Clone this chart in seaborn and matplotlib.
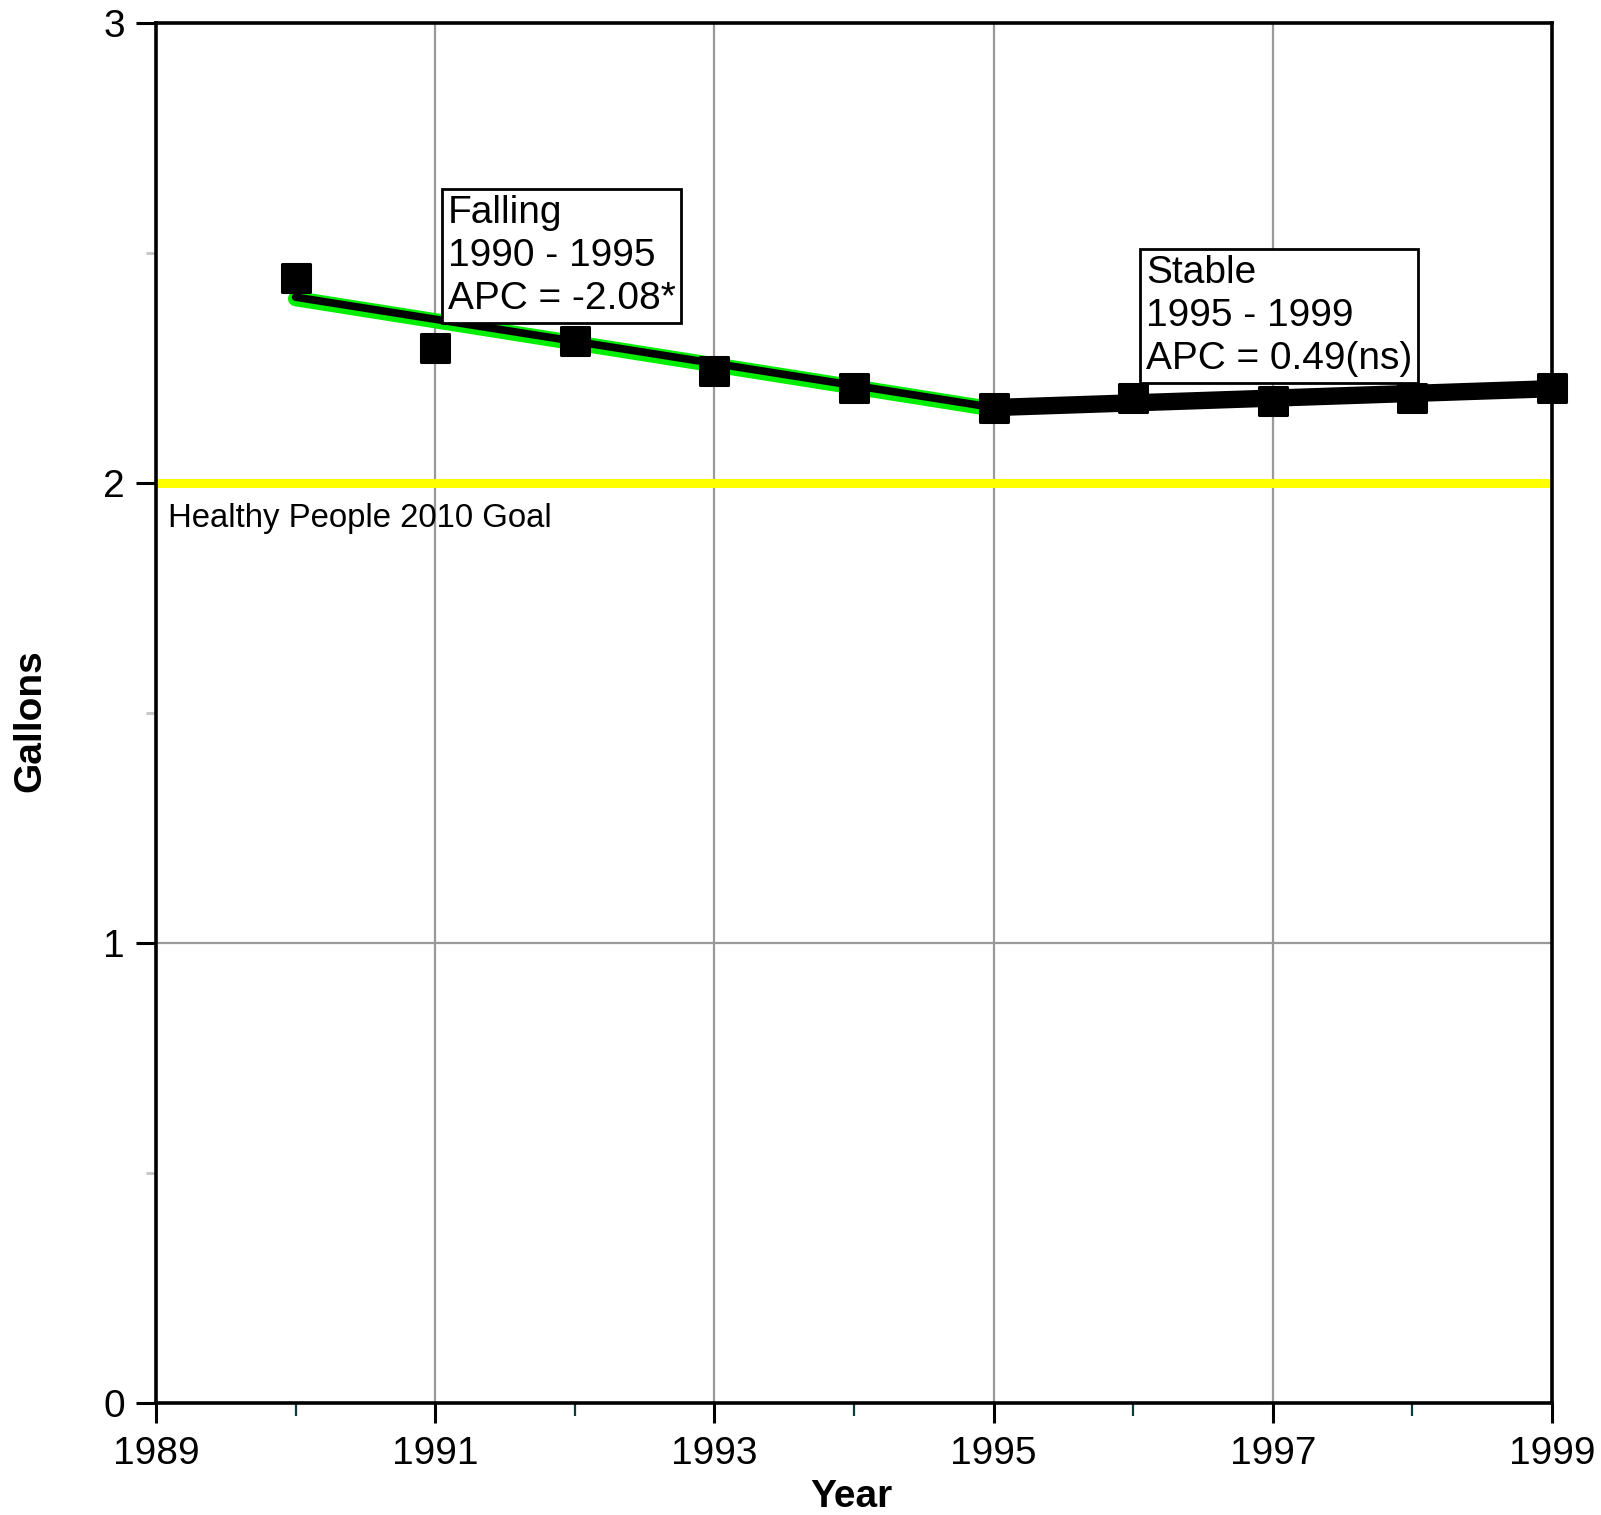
import matplotlib
matplotlib.use("Agg")
import matplotlib.pyplot as plt
import matplotlib.transforms as mtransforms
import pandas as pd
import seaborn as sns

# Per-capita consumption (gallons) by year
years = [1990, 1991, 1992, 1993, 1994, 1995, 1996, 1997, 1998, 1999]
gallons = [2.446, 2.294, 2.309, 2.243, 2.207, 2.164, 2.185, 2.178, 2.185, 2.207]

# Joinpoint trend segments
falling_years = [1990, 1995]
falling_fit = [2.404, 2.164]
stable_years = [1995, 1999]
stable_fit = [2.164, 2.205]

goal = 2.0
goal_label = "Healthy People 2010 Goal"
falling_label = "Falling\n1990 - 1995\nAPC = -2.08*"
stable_label = "Stable\n1995 - 1999\nAPC = 0.49(ns)"

x_major = [1989, 1991, 1993, 1995, 1997, 1999]
x_minor = [1990, 1992, 1994, 1996, 1998]
y_major = [0, 1, 2, 3]
y_minor = [0.5, 1.5, 2.5]

sns.set_style("white")
plt.rcParams["font.family"] = ["Liberation Sans", "DejaVu Sans"]
plt.rcParams["text.color"] = "black"
plt.rcParams["axes.labelcolor"] = "black"
plt.rcParams["xtick.color"] = "black"
plt.rcParams["ytick.color"] = "black"

W, H = 1601, 1515
fig = plt.figure(figsize=(W / 100, H / 100), dpi=100)
ax = fig.add_axes([156 / W, 1 - 1403 / H, 1396 / W, 1380 / H])

obs = pd.DataFrame({"Year": years, "Gallons": gallons})
seg1 = pd.DataFrame({"Year": falling_years, "Gallons": falling_fit})
seg2 = pd.DataFrame({"Year": stable_years, "Gallons": stable_fit})

# Grid
for xv in x_major[1:-1]:
    ax.axvline(xv, color="#999999", lw=1.6, zorder=1)
for yv in y_major[1:-1]:
    ax.axhline(yv, color="#999999", lw=1.6, zorder=1)

# Goal line
ax.axhline(goal, color="#ffff00", lw=6.5, zorder=2)
ax.text(1989.086, 1.957, goal_label, fontsize=23.7, ha="left", va="top", zorder=6)

# Falling segment: green halo under black trend line
green_tr = ax.transData + mtransforms.ScaledTranslation(0, -1.5 / 100, fig.dpi_scale_trans)
sns.lineplot(data=seg1, x="Year", y="Gallons", ax=ax, color="#00ee00", lw=11,
             solid_capstyle="round", transform=green_tr, zorder=3)
sns.lineplot(data=seg1, x="Year", y="Gallons", ax=ax, color="black", lw=5.5,
             solid_capstyle="round", zorder=3.5)
# Stable segment
sns.lineplot(data=seg2, x="Year", y="Gallons", ax=ax, color="black", lw=12.5,
             solid_capstyle="butt", zorder=3.5)

# Observed values
sns.scatterplot(data=obs, x="Year", y="Gallons", ax=ax, marker="s", s=384,
                color="black", edgecolor="black", linewidth=2.2, zorder=4)
for coll in ax.collections:
    coll.set_joinstyle("round")
    coll.set_clip_on(False)

# Segment annotations
box = dict(boxstyle="square,pad=0.15", fc="white", ec="black", lw=2)
ax.text(1991.09, 2.626, falling_label, fontsize=28, ha="left", va="top",
        linespacing=1.25, bbox=box, zorder=6)
ax.text(1996.09, 2.495, stable_label, fontsize=28, ha="left", va="top",
        linespacing=1.25, bbox=box, zorder=6)

ax.set_xlim(1989, 1999)
ax.set_ylim(0, 3)
ax.set_xticks(x_major)
ax.set_xticks(x_minor, minor=True)
ax.set_yticks(y_major)
ax.set_yticks(y_minor, minor=True)
ax.set_xticklabels([str(v) for v in x_major])
ax.set_yticklabels([str(v) for v in y_major])

ax.tick_params(axis="both", which="major", direction="out", length=14.4, width=2.2,
               color="black", labelcolor="black", labelsize=28)
ax.tick_params(axis="x", which="major", pad=9)
ax.tick_params(axis="y", which="major", pad=8)
ax.tick_params(axis="x", which="minor", direction="out", length=9.6, width=1.6,
               color="#0d3b3b")
ax.tick_params(axis="y", which="minor", direction="out", length=7, width=2.2,
               color="#c8c8c8")
ax.tick_params(bottom=True, left=True, which="both")

for sp in ax.spines.values():
    sp.set_color("black")
    sp.set_linewidth(2.6)
    sp.set_zorder(5)

ax.set_xlabel("Year", fontsize=28, fontweight="bold", color="black")
ax.set_ylabel("Gallons", fontsize=28, fontweight="bold", color="black")
ax.xaxis.set_label_coords((851 - 156) / 1396, (1403 - 1479) / 1380)
ax.yaxis.set_label_coords((48 - 156) / 1396, 0.5 - (721 - 713) / 1380)

fig.savefig("out.png", dpi=100)
